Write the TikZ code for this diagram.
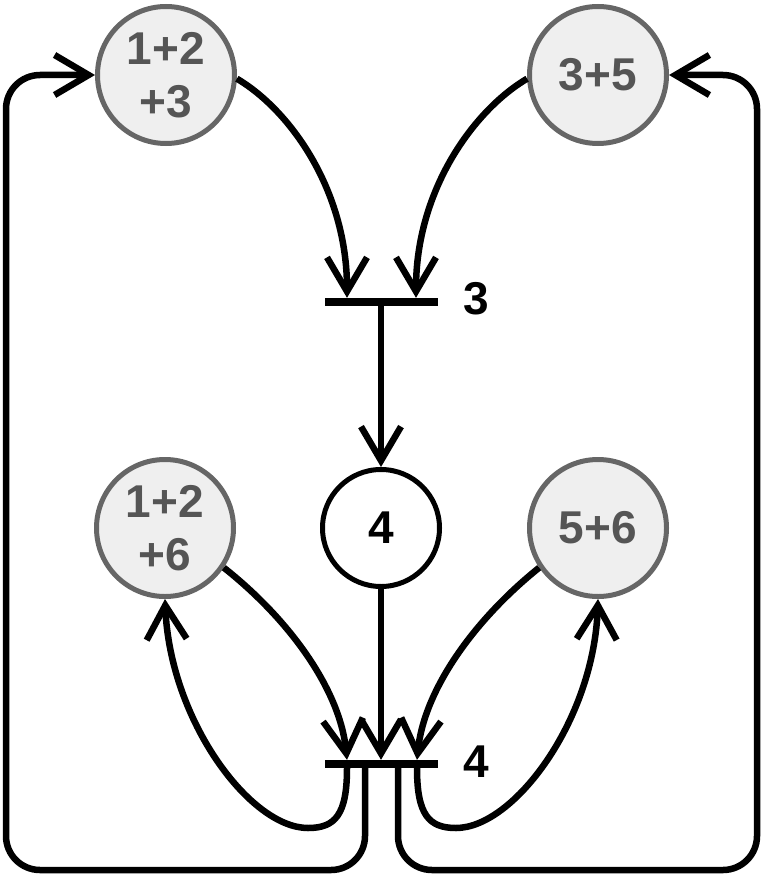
\documentclass[tikz,border=0pt]{standalone}
\usepackage{fontspec}
\setmainfont{Liberation Sans}
\usetikzlibrary{arrows.meta,calc}
\definecolor{placegray}{HTML}{666666}
\definecolor{placefill}{HTML}{EFEFEF}
\definecolor{textgray}{HTML}{555555}
\tikzset{
  place/.style={circle, draw=placegray, fill=placefill, line width=5pt,
    minimum size=137pt, inner sep=0pt, text=textgray,
    font=\bfseries\fontsize{46}{53}\selectfont, align=center},
  mainplace/.style={circle, draw=black, fill=white, line width=5pt,
    minimum size=117pt, inner sep=0pt, font=\bfseries\fontsize{46}{53}\selectfont},
  bar/.style={rectangle, fill=black, draw=none, minimum width=113pt,
    minimum height=8pt, inner sep=0pt},
  tlabel/.style={font=\bfseries\fontsize{46}{53}\selectfont, inner sep=0pt},
  conn/.style={line width=6.5pt, draw=black},
  arr/.style={conn, -{Straight Barb[length=34pt, width=40pt, line width=6.5pt]}}
}
\begin{document}
\begin{tikzpicture}[x=1pt,y=-1pt]
\useasboundingbox (0,0) rectangle (765,880);

% places
\node[place] (p123) at (166,75) {1+2\\+3};
\node[place] (p35) at (598,75) {3+5};
\node[mainplace] (p4) at (381,528) {4};
\node[place] (p126) at (165,528) {1+2\\+6};
\node[place] (p56) at (598,528) {5+6};

% transitions
\node[bar] (t3) at (381,302) {};
\node[bar] (t4) at (381,764) {};
\node[tlabel] (l3) at (476,299) {3};
\node[tlabel] (l4) at (476,762) {4};

% anchor points on transitions
\coordinate (t3l) at ($(t3.north)+(-34,0)$);
\coordinate (t3r) at ($(t3.north)+(35,0)$);
\coordinate (t4l) at ($(t4.north)+(-34,0)$);
\coordinate (t4r) at ($(t4.north)+(36,0)$);
\coordinate (t4bl) at ($(t4.south)+(-34,0)$);
\coordinate (t4bli) at ($(t4.south)+(-16,0)$);
\coordinate (t4bri) at ($(t4.south)+(17,0)$);
\coordinate (t4br) at ($(t4.south)+(36,0)$);

% into transition 3
\draw[arr] (p123.-3) .. controls (290,110) and (347,190) .. (t3l);
\draw[arr] (p35.183) .. controls (474,110) and (416,190) .. (t3r);
% transition 3 to place 4
\draw[arr] (t3.south) -- (p4.north);

% into transition 4
\draw[arr] (p4.south) -- (t4.north);
\draw[arr] (p126.-34) .. controls (290,620) and (340,690) .. (t4l);
\draw[arr] (p56.214) .. controls (474,620) and (424,690) .. (t4r);

% out of transition 4: small loops
\draw[arr] (t4bl) .. controls (347,815) and (335,828) .. (308,828)
  .. controls (250,828) and (170,720) .. (p126.south);
\draw[arr] (t4br) .. controls (417,815) and (429,828) .. (456,828)
  .. controls (514,828) and (594,720) .. (p56.south);

% out of transition 4: outer loops
\draw[arr, rounded corners=34pt] (t4bli) -- (365,870) -- (6,870) -- (6,75) -- (p123.west);
\draw[arr, rounded corners=34pt] (t4bri) -- (398,870) -- (757,870) -- (757,75) -- (p35.east);
\end{tikzpicture}
\end{document}
